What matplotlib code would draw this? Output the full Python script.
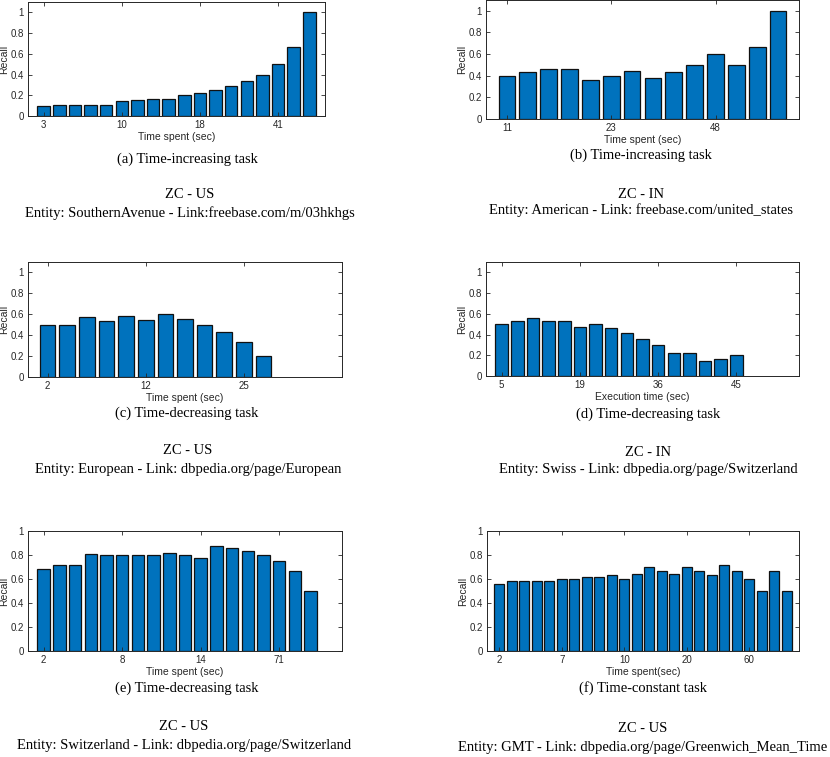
# graficas de recall por tiempo empleado
import matplotlib.pyplot as plt

# datos
recall_a = [0.1, 0.11, 0.11, 0.11, 0.11, 0.14, 0.15, 0.167, 0.167, 0.2,
            0.22, 0.25, 0.286, 0.333, 0.4, 0.5, 0.667, 1.0]
ticks_a = ['3', '10', '18', '41']

recall_b = [0.4, 0.43, 0.46, 0.46, 0.36, 0.4, 0.444, 0.375, 0.43, 0.5,
            0.6, 0.5, 0.667, 1.0]
ticks_b = ['11', '23', '48']

recall_c = [0.5, 0.5, 0.57, 0.535, 0.583, 0.545, 0.6, 0.555, 0.5, 0.43,
            0.333, 0.2]
ticks_c = ['2', '12', '25']

recall_d = [0.5, 0.526, 0.556, 0.526, 0.526, 0.47, 0.5, 0.46, 0.417, 0.36,
            0.3, 0.22, 0.22, 0.14, 0.167, 0.2]
ticks_d = ['5', '19', '36', '45']

recall_e = [0.685, 0.72, 0.72, 0.81, 0.8, 0.8, 0.8, 0.8, 0.817, 0.8,
            0.778, 0.875, 0.86, 0.836, 0.8, 0.75, 0.667, 0.5]
ticks_e = ['2', '8', '14', '71']

recall_f = [0.56, 0.585, 0.585, 0.585, 0.585, 0.6, 0.6, 0.615, 0.615, 0.63,
            0.6, 0.643, 0.7, 0.667, 0.64, 0.7, 0.667, 0.63, 0.714, 0.667,
            0.6, 0.5, 0.667, 0.5]
ticks_f = ['2', '7', '10', '20', '60']

captions = [
    ('(a) Time-increasing task', 'ZC - US',
     'Entity: SouthernAvenue - Link:freebase.com/m/03hkhgs'),
    ('(b) Time-increasing task', 'ZC - IN',
     'Entity: American - Link: freebase.com/united_states'),
    ('(c) Time-decreasing task', 'ZC - US',
     'Entity: European - Link: dbpedia.org/page/European'),
    ('(d) Time-decreasing task', 'ZC - IN',
     'Entity: Swiss - Link: dbpedia.org/page/Switzerland'),
    ('(e) Time-decreasing task', 'ZC - US',
     'Entity: Switzerland - Link: dbpedia.org/page/Switzerland'),
    ('(f) Time-constant task', 'ZC - US',
     'Entity: GMT - Link: dbpedia.org/page/Greenwich_Mean_Time'),
]

xlabels = ['Time spent (sec)', 'Time spent (sec)', 'Time spent (sec)',
           'Execution time (sec)', 'Time spent (sec)', 'Time spent(sec)']

W, H = 830, 757
AZUL = '#0072BD'
GRIS = '#262626'

plt.rcParams['font.family'] = ['Liberation Sans', 'DejaVu Sans']

fig = plt.figure(figsize=(W / 100, H / 100), dpi=100)


def caja(izq, arriba, der, abajo):
    # ejes a partir de coordenadas en pixeles
    return fig.add_axes([izq / W, 1 - abajo / H, (der - izq) / W, (abajo - arriba) / H])


def texto(x, y, s):
    fig.text(x / W, 1 - y / H, s, ha='center', va='center',
             family='Liberation Serif', fontsize=10.5, color='black')


paneles = [
    (recall_a, ticks_a, (28, 2, 325, 116), 19, 1.1, (187, 159, 190, 195, 213)),
    (recall_b, ticks_b, (486, 0, 799, 119), 15, 1.1, (641, 155, 641, 194, 210)),
    (recall_c, ticks_c, (28, 262, 342, 377), 16, 1.1, (187, 413, 188, 451, 470)),
    (recall_d, ticks_d, (486, 262, 799, 376), 20, 1.1, (648, 414, 648, 452, 470)),
    (recall_e, ticks_e, (28, 531, 342, 651), 20, 1.0, (187, 688, 184, 726, 745)),
    (recall_f, ticks_f, (487, 531, 799, 651), 25, 1.0, (643, 688, 643, 728, 747)),
]

for i, (valores, etiquetas, pos, xmax, ymax, tpos) in enumerate(paneles):
    ax = caja(*pos)
    x = list(range(1, len(valores) + 1))
    ax.bar(x, valores, width=0.8, color=AZUL, edgecolor='#111111', linewidth=0.9)

    ax.set_xlim(0, xmax)
    ax.set_ylim(0, ymax)
    ax.set_xticks([1 + 5 * k for k in range(len(etiquetas))])
    ax.set_xticklabels(etiquetas)
    ax.set_yticks([0, 0.2, 0.4, 0.6, 0.8, 1.0])
    ax.set_yticklabels(['0', '0.2', '0.4', '0.6', '0.8', '1'])
    ax.tick_params(direction='in', top=True, right=True, length=3, width=0.6,
                   labelsize=7, colors=GRIS, pad=3)
    for lado in ax.spines.values():
        lado.set_color(GRIS)
        lado.set_linewidth(0.7)

    ax.set_xlabel(xlabels[i], fontsize=7.5, color=GRIS, labelpad=1)
    ax.set_ylabel('Recall', fontsize=7.5, color=GRIS, labelpad=1)

    cx1, cy1, cx2, cy2, cy3 = tpos
    texto(cx1, cy1, captions[i][0])
    texto(cx2, cy2, captions[i][1])
    texto(cx2, cy3, captions[i][2])

fig.savefig('out.png', dpi=100)
